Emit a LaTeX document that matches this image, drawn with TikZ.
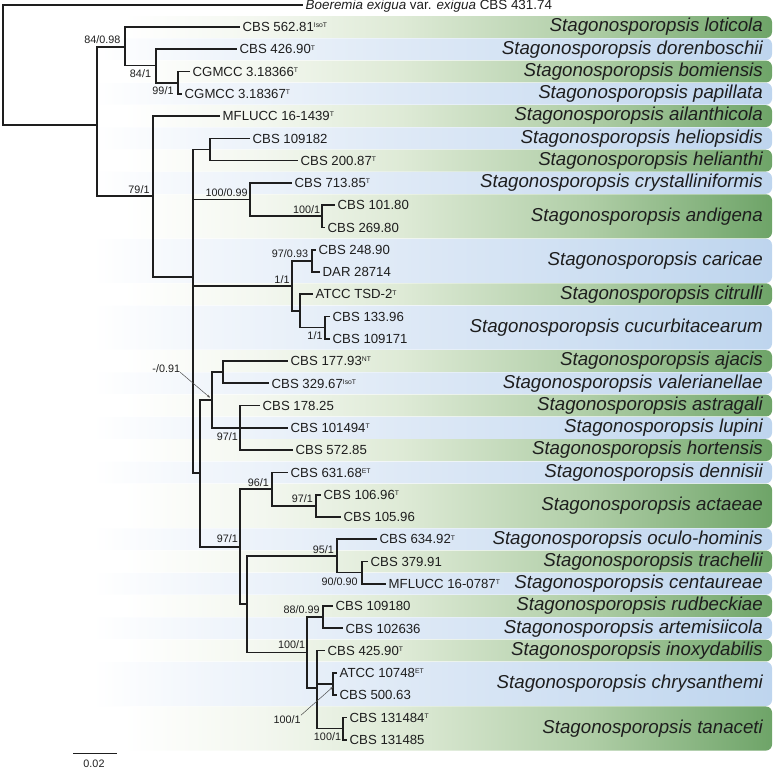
\documentclass[tikz,border=0pt]{standalone}
\usepackage{fontspec}
\setmainfont{Liberation Sans}
\usetikzlibrary{arrows.meta}
\definecolor{gA}{RGB}{243,247,239}
\definecolor{gB}{RGB}{222,234,214}
\definecolor{gC}{RGB}{176,206,167}
\definecolor{gD}{RGB}{110,164,104}
\definecolor{bA}{RGB}{240,245,251}
\definecolor{bB}{RGB}{222,233,246}
\definecolor{bC}{RGB}{190,213,238}
\definecolor{ink}{RGB}{30,30,30}
\pgfdeclarehorizontalshading{gband}{100bp}{color(0bp)=(white); color(33bp)=(white); color(42bp)=(gA); color(51bp)=(gB); color(63bp)=(gC); color(75bp)=(gD); color(100bp)=(gD)}
\pgfdeclarehorizontalshading{bband}{100bp}{color(0bp)=(white); color(31bp)=(white); color(39bp)=(bA); color(51bp)=(bB); color(75bp)=(bC); color(100bp)=(bC)}
\newcommand{\tsup}[1]{\raisebox{3.8pt}{\fontsize{6.8}{6.8}\selectfont #1}}
\newcommand{\spband}[5]{%
  \pgfmathsetmacro\bandtop{27+22.27*#2-10.9}%
  \pgfmathsetmacro\bandbot{27+22.27*#3+10.9}%
  \pgfmathsetmacro\bandmid{(\bandtop+\bandbot)/2}%
  \path[shading=#1, rounded corners=6pt] (0,\bandtop) rectangle (772,\bandbot);
  \node[sp] (#5) at (763,\bandmid) {Stagonosporopsis #4};
}
\tikzset{
  br/.style={line width=1.7pt, draw=ink, line join=miter},
  leaf/.style={anchor=west, inner xsep=2.5pt, inner ysep=0pt, text height=9.4pt, text depth=0pt, font=\fontsize{13.2}{14}\selectfont, text=ink},
  sp/.style={anchor=east, inner sep=0pt, font=\fontsize{18.7}{20}\selectfont\itshape, text=ink},
  bs/.style={inner sep=0pt, text height=7.7pt, text depth=0pt, font=\fontsize{10.8}{11}\selectfont, text=ink},
  pointer/.style={draw=black!70, line width=0.5pt, -{Stealth[length=3pt,width=2.4pt]}}
}
\begin{document}
\begin{tikzpicture}[x=1pt,y=-1pt]
\useasboundingbox (0,0) rectangle (776,769);
% bands
\spband{gband}{0}{0}{loticola}{sp0}
\spband{bband}{1}{1}{dorenboschii}{sp1}
\spband{gband}{2}{2}{bomiensis}{sp2}
\spband{bband}{3}{3}{papillata}{sp3}
\spband{gband}{4}{4}{ailanthicola}{sp4}
\spband{bband}{5}{5}{heliopsidis}{sp5}
\spband{gband}{6}{6}{helianthi}{sp6}
\spband{bband}{7}{7}{crystalliniformis}{sp7}
\spband{gband}{8}{9}{andigena}{sp8}
\spband{bband}{10}{11}{caricae}{sp9}
\spband{gband}{12}{12}{citrulli}{sp10}
\spband{bband}{13}{14}{cucurbitacearum}{sp11}
\spband{gband}{15}{15}{ajacis}{sp12}
\spband{bband}{16}{16}{valerianellae}{sp13}
\spband{gband}{17}{17}{astragali}{sp14}
\spband{bband}{18}{18}{lupini}{sp15}
\spband{gband}{19}{19}{hortensis}{sp16}
\spband{bband}{20}{20}{dennisii}{sp17}
\spband{gband}{21}{22}{actaeae}{sp18}
\spband{bband}{23}{23}{oculo-hominis}{sp19}
\spband{gband}{24}{24}{trachelii}{sp20}
\spband{bband}{25}{25}{centaureae}{sp21}
\spband{gband}{26}{26}{rudbeckiae}{sp22}
\spband{bband}{27}{27}{artemisiicola}{sp23}
\spband{gband}{28}{28}{inoxydabilis}{sp24}
\spband{bband}{29}{30}{chrysanthemi}{sp25}
\spband{gband}{31}{32}{tanaceti}{sp26}
% internal nodes
\coordinate (R) at (3.3,65);
\coordinate (A) at (97,125);
\coordinate (B) at (125,47.3);
\coordinate (C) at (156,65.5);
\coordinate (D) at (178,82.7);
\coordinate (E) at (153,196.2);
\coordinate (F) at (193,277);
\coordinate (G) at (209.7,149.5);
\coordinate (H) at (250,199.6);
\coordinate (H2) at (322,216.3);
\coordinate (I) at (292,286);
\coordinate (I1) at (312,260.8);
\coordinate (I2) at (300,311);
\coordinate (I3) at (325,327.6);
\coordinate (J) at (200,473.3);
\coordinate (K) at (211.7,400);
\coordinate (K1) at (223,372.2);
\coordinate (K2) at (240,427.86);
\coordinate (L) at (240,546.7);
\coordinate (L1) at (272,489.1);
\coordinate (L1a) at (316,505.8);
\coordinate (L2) at (247,604.2);
\coordinate (L2a) at (337,555.9);
\coordinate (L2a1) at (362,572.6);
\coordinate (L2b) at (307,652.4);
\coordinate (L2b1) at (323.3,617.2);
\coordinate (L2b2) at (317,687.7);
\coordinate (Ch) at (333.3,684);
\coordinate (Ta) at (343.3,728.5);
% leaves
\node[leaf, font=\fontsize{13.4}{14}\selectfont] (boer) at (303,4.7) {\textit{Boeremia exigua} var. \textit{exigua} CBS 431.74};
\node[leaf] (l0) at (240,27) {CBS 562.81\tsup{IsoT}};
\node[leaf] (l1) at (237,49.27) {CBS 426.90\tsup{T}};
\node[leaf] (l2) at (190,71.54) {CGMCC 3.18366\tsup{T}};
\node[leaf] (l3) at (182,93.81) {CGMCC 3.18367\tsup{T}};
\node[leaf] (l4) at (220,116.08) {MFLUCC 16-1439\tsup{T}};
\node[leaf] (l5) at (250,138.35) {CBS 109182};
\node[leaf] (l6) at (298,160.62) {CBS 200.87\tsup{T}};
\node[leaf] (l7) at (292,182.89) {CBS 713.85\tsup{T}};
\node[leaf] (l8) at (335,205.16) {CBS 101.80};
\node[leaf] (l9) at (325,227.43) {CBS 269.80};
\node[leaf] (l10) at (316,249.7) {CBS 248.90};
\node[leaf] (l11) at (320,271.97) {DAR 28714};
\node[leaf] (l12) at (313,294.24) {ATCC TSD-2\tsup{T}};
\node[leaf] (l13) at (330,316.51) {CBS 133.96};
\node[leaf] (l14) at (330,338.78) {CBS 109171};
\node[leaf] (l15) at (288,361.05) {CBS 177.93\tsup{NT}};
\node[leaf] (l16) at (269,383.32) {CBS 329.67\tsup{IsoT}};
\node[leaf] (l17) at (260,405.59) {CBS 178.25};
\node[leaf] (l18) at (288,427.86) {CBS 101494\tsup{T}};
\node[leaf] (l19) at (293,450.13) {CBS 572.85};
\node[leaf] (l20) at (288,472.4) {CBS 631.68\tsup{ET}};
\node[leaf] (l21) at (321,494.67) {CBS 106.96\tsup{T}};
\node[leaf] (l22) at (341,516.94) {CBS 105.96};
\node[leaf] (l23) at (377,539.21) {CBS 634.92\tsup{T}};
\node[leaf] (l24) at (368,561.48) {CBS 379.91};
\node[leaf] (l25) at (386,583.75) {MFLUCC 16-0787\tsup{T}};
\node[leaf] (l26) at (333,606.02) {CBS 109180};
\node[leaf] (l27) at (343,628.29) {CBS 102636};
\node[leaf] (l28) at (325,650.56) {CBS 425.90\tsup{T}};
\node[leaf] (l29) at (337,672.83) {ATCC 10748\tsup{ET}};
\node[leaf] (l30) at (337,695.1) {CBS 500.63};
\node[leaf] (l31) at (347,717.37) {CBS 131484\tsup{T}};
\node[leaf] (l32) at (347,739.64) {CBS 131485};
% branches
\draw[br] (R) |- (boer.west);
\draw[br] (R) |- (A);
\draw[br] (A) |- (B);
\draw[br] (A) |- (E);
\draw[br] (B) |- (l0.west);
\draw[br] (B) |- (C);
\draw[br] (C) |- (l1.west);
\draw[br] (C) |- (D);
\draw[br] (D) |- (l2.west);
\draw[br] (D) |- (l3.west);
\draw[br] (E) |- (l4.west);
\draw[br] (E) |- (F);
\draw[br] (F) |- (G);
\draw[br] (F) |- (H);
\draw[br] (F) |- (I);
\draw[br] (F) |- (J);
\draw[br] (G) |- (l5.west);
\draw[br] (G) |- (l6.west);
\draw[br] (H) |- (l7.west);
\draw[br] (H) |- (H2);
\draw[br] (H2) |- (l8.west);
\draw[br] (H2) |- (l9.west);
\draw[br] (I) |- (I1);
\draw[br] (I) |- (I2);
\draw[br] (I1) |- (l10.west);
\draw[br] (I1) |- (l11.west);
\draw[br] (I2) |- (l12.west);
\draw[br] (I2) |- (I3);
\draw[br] (I3) |- (l13.west);
\draw[br] (I3) |- (l14.west);
\draw[br] (J) |- (K);
\draw[br] (J) |- (L);
\draw[br] (K) |- (K1);
\draw[br] (K) |- (K2);
\draw[br] (K1) |- (l15.west);
\draw[br] (K1) |- (l16.west);
\draw[br] (K2) |- (l17.west);
\draw[br] (K2) |- (l18.west);
\draw[br] (K2) |- (l19.west);
\draw[br] (L) |- (L1);
\draw[br] (L) |- (L2);
\draw[br] (L1) |- (l20.west);
\draw[br] (L1) |- (L1a);
\draw[br] (L1a) |- (l21.west);
\draw[br] (L1a) |- (l22.west);
\draw[br] (L2) |- (L2a);
\draw[br] (L2) |- (L2b);
\draw[br] (L2a) |- (l23.west);
\draw[br] (L2a) |- (L2a1);
\draw[br] (L2a1) |- (l24.west);
\draw[br] (L2a1) |- (l25.west);
\draw[br] (L2b) |- (L2b1);
\draw[br] (L2b) |- (L2b2);
\draw[br] (L2b1) |- (l26.west);
\draw[br] (L2b1) |- (l27.west);
\draw[br] (L2b2) |- (l28.west);
\draw[br] (L2b2) |- (Ch);
\draw[br] (L2b2) |- (Ta);
\draw[br] (Ch) |- (l29.west);
\draw[br] (Ch) |- (l30.west);
\draw[br] (Ta) |- (l31.west);
\draw[br] (Ta) |- (l32.west);
% support values
\node[bs] (sB) at (102.3,40) {84/0.98};
\node[bs] (sC) at (140.5,74) {84/1};
\node[bs] (sD) at (163,91) {99/1};
\node[bs] (sE) at (139,190) {79/1};
\node[bs] (sH) at (226.7,192.7) {100/0.99};
\node[bs] (sH2) at (306.7,209.3) {100/1};
\node[bs] (sI1) at (290,254) {97/0.93};
\node[bs] (sI) at (282,280) {1/1};
\node[bs] (sI3) at (315,336) {1/1};
\node[bs] (sK) at (166.3,368.3) {-/0.91};
\node[bs] (sK2) at (227.3,436.7) {97/1};
\node[bs] (sL1) at (258.3,482.7) {96/1};
\node[bs] (sL1a) at (302.3,499) {97/1};
\node[bs] (sL) at (227.3,539) {97/1};
\node[bs] (sL2a) at (323.3,549.3) {95/1};
\node[bs] (sL2a1) at (339.7,581.7) {90/0.90};
\node[bs] (sL2b1) at (301.7,610) {88/0.99};
\node[bs] (sL2b) at (291.7,645) {100/1};
\node[bs] (sCh) at (287.2,719.3) {100/1};
\node[bs] (sTa) at (327.5,736.7) {100/1};
% pointers
\coordinate (Kp) at (210,397.6);
\coordinate (Chp) at (332.8,687);
\draw[pointer] (sK.south east) -- (Kp);
\draw[pointer] (sCh.north east) -- (Chp);
% scale bar
\coordinate (sb1) at (73,753.3);
\coordinate (sb2) at (117,753.3);
\draw[br, line width=1.3pt] (sb1) -- (sb2);
\node[bs] (sbl) at (94,763.2) {0.02};
\end{tikzpicture}
\end{document}
